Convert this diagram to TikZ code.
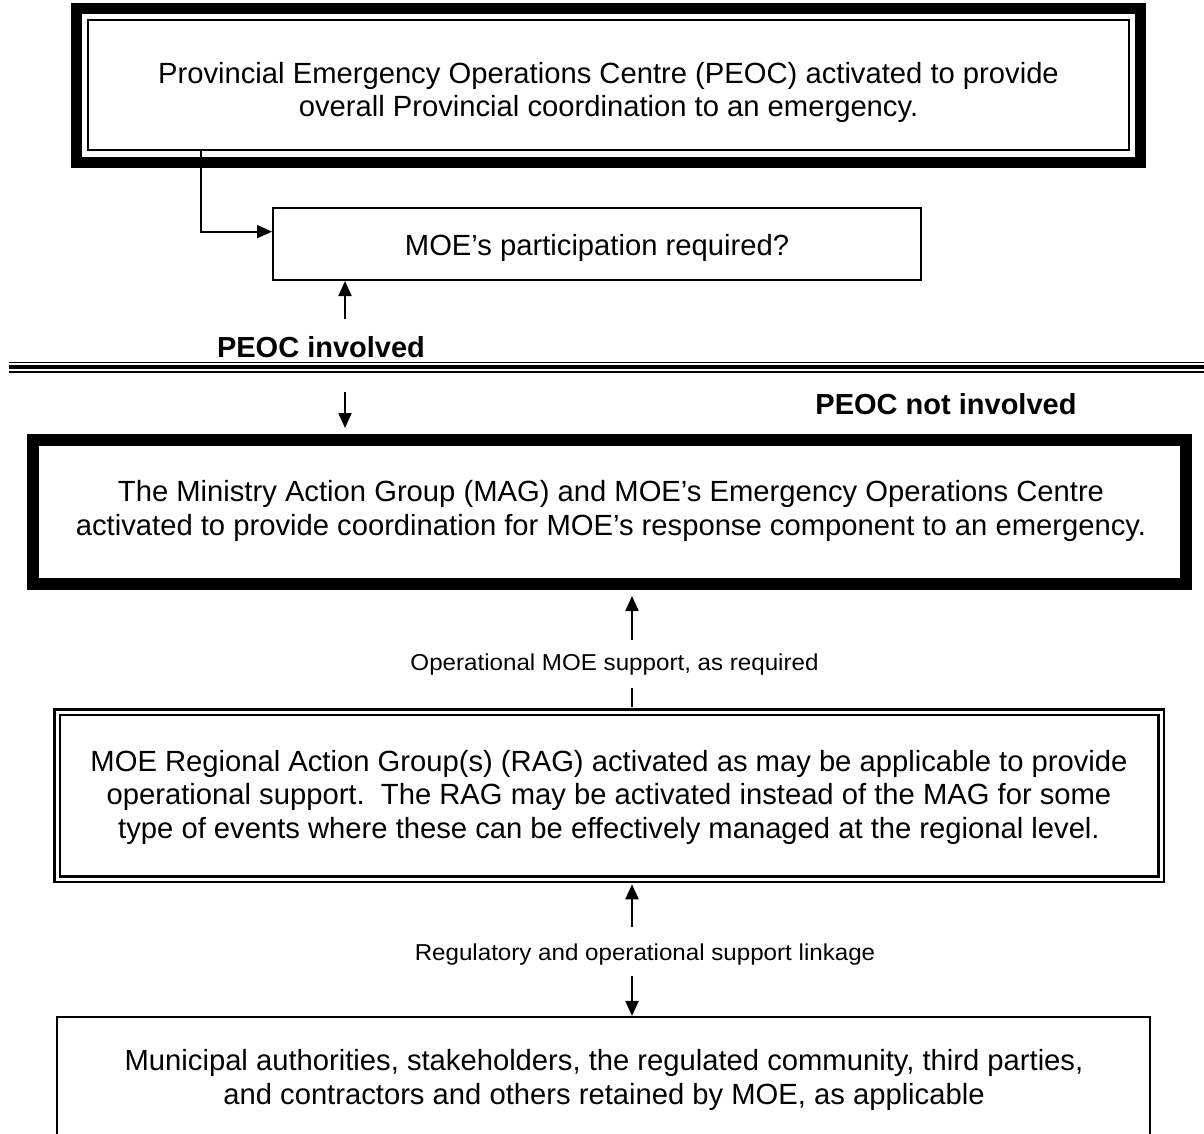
\documentclass[tikz,border=0pt]{standalone}
\usepackage{fontspec}
\setmainfont{Liberation Sans}
\newfontfamily\labfont[FakeStretch=1.05]{Liberation Sans}
\usetikzlibrary{arrows.meta,calc}
\begin{document}
\begin{tikzpicture}[x=1pt,y=-1pt,
  txt/.style={align=center,font=\fontsize{29.2}{33.5}\selectfont,inner sep=0pt},
  boldtxt/.style={font=\fontsize{29}{33.5}\selectfont\bfseries,inner sep=0pt},
  lab/.style={font=\labfont\fontsize{23}{26}\selectfont,inner sep=0pt},
  boxframe/.style={draw,inner sep=0pt},
  arr/.style={-{Triangle[length=15pt,width=13pt]},line width=2pt},
  ln/.style={line width=2pt}]
\useasboundingbox (0,0) rectangle (1204,1133);
\clip (0,0) rectangle (1204,1133);
\fill[white] (0,0) rectangle (1204,1133);

% top box (thick-thin frame)
\draw[line width=11pt] (76.5,8.5) rectangle (1140.5,162.5);
\node[boxframe,line width=2.5pt,minimum width=1041pt,minimum height=130pt] (peoc) at (608.5,85) {};
\node[txt] (peoct) at (608.5,92.3) {Provincial Emergency Operations Centre (PEOC) activated to provide\\overall Provincial coordination to an emergency.};

% question box
\node[boxframe,txt,line width=2pt,minimum width=648pt,minimum height=72pt,text height=22pt,text depth=0pt] (q) at (597,244) {MOE’s participation required?};

\coordinate (c1) at (201,0);
\draw[arr] (peoc.south -| c1) |- ($(q.north west)!0.333!(q.south west)$);
\coordinate (c2) at (345,319);
\draw[arr] (c2) -- (q.south -| c2);

\node[boldtxt] (inv) at (321,347.5) {PEOC involved};

% separator (thin-thick-thin)
\draw[line width=1.5pt] (9,362.5) -- (1210,362.5);
\draw[line width=4pt] (9,367) -- (1210,367);
\draw[line width=1.8pt] (9,372) -- (1210,372);

\node[boldtxt] (notinv) at (946,404.5) {PEOC not involved};

% MAG box
\node[boxframe,line width=12pt,minimum width=1152.5pt,minimum height=144pt] (mag) at (609.25,512) {};
\node[txt] (magt) at (611,510.75) {The Ministry Action Group (MAG) and MOE’s Emergency Operations Centre\\activated to provide coordination for MOE’s response component to an emergency.};

\coordinate (c3) at (345,392);
\draw[arr,shorten >=6pt] (c3) -- (mag.north -| c3);

% RAG box
\node[boxframe,double,double distance=3pt,line width=2.5pt,minimum width=1104pt,minimum height=167pt] (rag) at (609,795.5) {};
\node[txt] (ragt) at (609,797.25) {MOE Regional Action Group(s) (RAG) activated as may be applicable to provide\\operational support.\ \ The RAG may be activated instead of the MAG for some\\type of events where these can be effectively managed at the regional level.};

\node[lab] (lab1) at (614.5,665) {Operational MOE support, as required};
\coordinate (c4) at (632,640);
\coordinate (c4b) at (632,688);
\draw[arr,shorten >=6pt] (c4) -- (mag.south -| c4);
\draw[ln,shorten <=4pt] (rag.north -| c4) -- (c4b);

% bottom box
\node[boxframe,line width=2.5pt,minimum width=1093pt,minimum height=160pt] (mun) at (603.5,1097.2) {};
\node[txt] (munt) at (604,1080) {Municipal authorities, stakeholders, the regulated community, third parties,\\and contractors and others retained by MOE, as applicable};

\node[lab] (lab2) at (645,955) {Regulatory and operational support linkage};
\coordinate (c5) at (632,927);
\coordinate (c6) at (632,976);
\draw[arr,shorten >=4pt] (c5) -- (rag.south -| c5);
\draw[arr] (c6) -- (mun.north -| c6);
\end{tikzpicture}
\end{document}
